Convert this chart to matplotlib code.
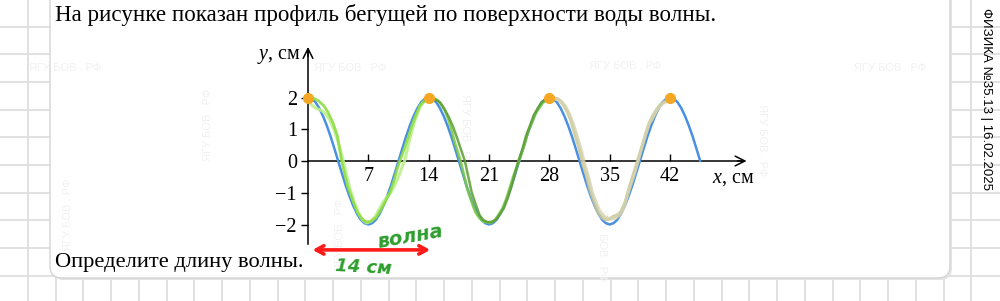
import numpy as np
import matplotlib
matplotlib.use("Agg")
import matplotlib.pyplot as plt
from matplotlib.patches import FancyBboxPatch

plt.rcParams['font.family'] = ['Liberation Serif', 'DejaVu Serif']
plt.rcParams['mathtext.fontset'] = 'custom'
plt.rcParams['mathtext.it'] = 'Liberation Serif:italic'
plt.rcParams['mathtext.rm'] = 'Liberation Serif'

# wave profile: y in cm sampled every 0.4375 cm from x = 0 to 45.5
blue_y = [2.00, 1.96, 1.85, 1.66, 1.41, 1.11, 0.77, 0.39,
          0.00, -0.39, -0.77, -1.11, -1.41, -1.66, -1.85, -1.96,
          -2.00, -1.96, -1.85, -1.66, -1.41, -1.11, -0.77, -0.39,
          0.00, 0.39, 0.77, 1.11, 1.41, 1.66, 1.85, 1.96,
          2.00, 1.96, 1.85, 1.66, 1.41, 1.11, 0.77, 0.39,
          0.00, -0.39, -0.77, -1.11, -1.41, -1.66, -1.85, -1.96,
          -2.00, -1.96, -1.85, -1.66, -1.41, -1.11, -0.77, -0.39,
          0.00, 0.39, 0.77, 1.11, 1.41, 1.66, 1.85, 1.96,
          2.00, 1.96, 1.85, 1.66, 1.41, 1.11, 0.77, 0.39,
          0.00, -0.39, -0.77, -1.11, -1.41, -1.66, -1.85, -1.96,
          -2.00, -1.96, -1.85, -1.66, -1.41, -1.11, -0.77, -0.39,
          0.00, 0.39, 0.77, 1.11, 1.41, 1.66, 1.85, 1.96,
          2.00, 1.96, 1.85, 1.66, 1.41, 1.11, 0.77, 0.39,
          0.00]
blue_x = np.arange(len(blue_y)) * 0.4375

# crest points
crest_x = [0, 14, 28, 42]
crest_y = [2, 2, 2, 2]

# hand-drawn overlay strokes
lime_x = [0, 0.6, 1.2, 1.8, 2.3, 2.9, 3.4, 3.9, 4.6, 5.2, 5.7, 6.2, 6.6, 7.0, 7.4, 7.9, 8.3, 8.9, 9.5, 10.0, 10.4, 10.8, 11.2, 11.7, 12.1, 12.6, 13.0, 13.5, 13.9, 14.6]
lime_y = [2.0, 1.98, 1.9, 1.75, 1.55, 1.2, 0.8, 0.0, -0.8, -1.25, -1.6, -1.8, -1.9, -1.92, -1.88, -1.78, -1.6, -1.32, -1.0, -0.6, -0.2, 0.1, 0.4, 0.8, 1.15, 1.5, 1.75, 1.9, 1.98, 1.95]
light_x = [0.3, 0.6, 1.0, 1.5, 2.0, 2.5, 3.0, 3.5, 4.0, 4.8, 5.3, 5.8, 6.3, 6.8, 7.3, 7.8, 8.2, 8.7, 9.1, 9.6, 10.0, 10.5, 10.9, 11.2, 11.6, 12.0, 12.5, 13.0, 13.5, 14.0]
light_y = [1.8, 1.72, 1.65, 1.6, 1.5, 1.3, 1.0, 0.6, 0.1, -0.8, -1.25, -1.6, -1.85, -1.95, -1.9, -1.75, -1.55, -1.3, -1.15, -1.0, -0.8, -0.5, -0.2, 0.0, 0.45, 0.9, 1.35, 1.7, 1.88, 1.95]
mid_x = [13.5, 14.5, 15.0, 15.4, 15.9, 16.3, 16.7, 17.0, 17.7, 18.1, 18.5, 19.0, 19.4, 19.9, 20.3, 20.8, 21.2, 21.7, 22.1, 22.6, 23.0, 23.4, 23.8, 24.2, 24.6, 25.1, 25.5, 26.0, 26.4, 26.9, 27.3, 28.0]
mid_y = [1.9, 1.98, 1.92, 1.8, 1.58, 1.3, 0.95, 0.6, 0.0, -0.45, -0.9, -1.3, -1.6, -1.8, -1.9, -1.94, -1.95, -1.85, -1.7, -1.48, -1.2, -0.85, -0.5, -0.2, 0.1, 0.5, 0.9, 1.22, 1.5, 1.7, 1.85, 1.95]
dark_x = [14.3, 14.8, 15.3, 15.8, 16.3, 16.8, 17.2, 17.7, 18.2, 18.6, 19.0, 19.5, 19.9, 20.3, 20.8, 21.3, 21.8, 22.2, 22.7, 23.2, 23.6, 24.0, 24.4, 24.9, 25.3, 25.8, 26.2, 26.7, 27.1, 27.8]
dark_y = [1.97, 1.93, 1.85, 1.65, 1.4, 1.1, 0.8, 0.4, 0.0, -0.5, -1.0, -1.4, -1.7, -1.85, -1.92, -1.92, -1.85, -1.7, -1.5, -1.15, -0.8, -0.4, 0.0, 0.4, 0.8, 1.15, 1.45, 1.68, 1.85, 1.98]
khaki_x = [28.0, 28.5, 29.0, 29.5, 30.0, 30.5, 30.9, 31.4, 31.8, 32.3, 32.7, 33.2, 33.6, 34.0, 34.5, 35.0, 35.4, 35.9, 36.3, 36.8, 37.2, 37.6, 38.0, 38.4, 38.8, 39.2, 39.6, 40.0, 40.4, 40.8, 41.2, 42.0]
khaki_y = [2.0, 1.99, 1.95, 1.82, 1.6, 1.28, 0.9, 0.45, 0.0, -0.45, -0.9, -1.3, -1.6, -1.76, -1.85, -1.83, -1.75, -1.7, -1.6, -1.3, -0.9, -0.55, -0.2, 0.15, 0.5, 0.85, 1.2, 1.42, 1.6, 1.75, 1.85, 1.95]
khaki2_x = [28.3, 28.8, 29.3, 29.8, 30.3, 30.8, 31.2, 31.7, 32.1, 32.6, 33.0, 33.5, 33.9, 34.4, 34.8, 35.3, 35.7, 36.2, 36.6, 37.0, 37.4, 37.9, 38.3, 38.7, 39.1, 39.5, 39.9, 40.3, 40.7, 41.1, 41.8]
khaki2_y = [1.95, 1.94, 1.9, 1.75, 1.5, 1.15, 0.8, 0.35, -0.1, -0.55, -1.0, -1.35, -1.6, -1.75, -1.8, -1.82, -1.8, -1.7, -1.5, -1.15, -0.8, -0.4, 0.0, 0.4, 0.8, 1.15, 1.3, 1.5, 1.68, 1.8, 1.9]

x_ticks = [7, 14, 21, 28, 35, 42]
y_ticks = [-2, -1, 0, 1, 2]

fig = plt.figure(figsize=(10, 3.01), dpi=100)

# background: graph paper + white card (pixel coords)
bg = fig.add_axes([0, 0, 1, 1])
bg.set_xlim(0, 1000)
bg.set_ylim(301, 0)
bg.axis('off')
for k in range(1, 36):
    bg.axvline(27.75 * k, color='#dedede', lw=1.3, zorder=0)
for k in range(-1, 11):
    bg.axhline(26.5 + 27.7 * k, color='#dedede', lw=1.3, zorder=0)

bg.add_patch(FancyBboxPatch((52, -30), 900, 310, boxstyle='round,pad=0,rounding_size=12',
                            fc='#e4e4e4', ec='none', zorder=1))
bg.add_patch(FancyBboxPatch((50, -30), 900, 308, boxstyle='round,pad=0,rounding_size=12',
                            fc='white', ec='#d4d4d4', lw=1.0, zorder=2))

for wx, wy, rot in [(65, 68, 0), (350, 68, 0), (625, 66, 0), (890, 68, 0),
                    (208, 125, 90), (465, 130, -90), (762, 140, -90),
                    (68, 215, 90), (340, 235, 90), (602, 245, -90)]:
    bg.text(wx, wy, 'ЯГУ БОВ . РФ', color='#f1f1f1', fontsize=8, family='Liberation Sans',
            ha='center', va='center', rotation=rot, zorder=3)

bg.text(55, 15, 'На рисунке показан профиль бегущей по поверхности воды волны.',
        fontsize=16.6, va='center', ha='left', zorder=4)
bg.text(55, 263, 'Определите длину волны.', fontsize=16.2, va='center', ha='left', zorder=4)
bg.text(986, 8, 'ФИЗИКА №35.13 | 16.02.2025', rotation=-90, fontsize=9.5,
        family='Liberation Sans', ha='center', va='top', zorder=4)

# chart axes, placed so that origin sits at (308, 161) px
px_x, px_y = 8.62, 31.75
x0, y0 = 308, 161
xmin, xmax, ymin, ymax = -6, 53, -3.6, 4.0
ax = fig.add_axes([(x0 + px_x * xmin) / 1000, (301 - (y0 - px_y * ymin)) / 301,
                   px_x * (xmax - xmin) / 1000, px_y * (ymax - ymin) / 301])
ax.set_xlim(xmin, xmax)
ax.set_ylim(ymin, ymax)
ax.patch.set_alpha(0)

for s in ['top', 'right']:
    ax.spines[s].set_visible(False)
ax.spines['left'].set_position(('data', 0))
ax.spines['bottom'].set_position(('data', 0))
ax.spines['left'].set_bounds(-2.6, 3.5)
ax.spines['bottom'].set_bounds(0, 50.5)
ax.spines['left'].set_linewidth(1.1)
ax.spines['bottom'].set_linewidth(1.1)
ax.annotate('', xy=(51.2, 0), xytext=(49.5, 0),
            arrowprops=dict(arrowstyle='->,head_length=0.7,head_width=0.35', lw=1.1, color='black'))
ax.annotate('', xy=(0, 3.68), xytext=(0, 3.2),
            arrowprops=dict(arrowstyle='->,head_length=0.7,head_width=0.35', lw=1.1, color='black'))

ax.set_xticks(x_ticks)
ax.set_yticks(y_ticks)
ax.tick_params(axis='x', direction='in', length=5, width=1, labelsize=14.5, pad=4)
ax.tick_params(axis='y', direction='out', length=5, width=1, labelsize=14.5, pad=3)

ax.text(49.3, -0.55, r'$x$, см', fontsize=14.5, ha='center', va='center')
ax.text(-0.8, 3.3, r'$y$, см', fontsize=14.5, ha='right', va='center')

ax.plot(blue_x, blue_y, color='#4a90e2', lw=1.8, zorder=3, solid_capstyle='round')
ax.plot(light_x, light_y, color='#bdf08c', lw=2.2, alpha=0.9, zorder=4)
ax.plot(lime_x, lime_y, color='#8fdd45', lw=2.0, alpha=0.9, zorder=4)
ax.plot(mid_x, mid_y, color='#7cc845', lw=2.0, alpha=0.85, zorder=4)
ax.plot(dark_x, dark_y, color='#5c9e34', lw=1.8, alpha=0.85, zorder=4)
ax.plot(khaki_x, khaki_y, color='#c9c79b', lw=2.4, alpha=0.85, zorder=4)
ax.plot(khaki2_x, khaki2_y, color='#d5d3ad', lw=2.2, alpha=0.8, zorder=4)
ax.plot(crest_x, crest_y, 'o', color='#f5a623', ms=7, zorder=5)

ax.annotate('', xy=(14.5, -2.8), xytext=(0.2, -2.8), annotation_clip=False,
            arrowprops=dict(arrowstyle='<->,head_length=0.55,head_width=0.3',
                            color='#ff1a1a', lw=2.6))
ax.text(11.9, -2.38, 'волна', color='#2e9e2e', fontsize=14, family='DejaVu Sans',
        style='italic', weight='bold', rotation=10, ha='center', va='center')
ax.text(6.4, -3.35, '14 см', color='#2e9e2e', fontsize=13, family='DejaVu Sans',
        style='italic', weight='bold', rotation=-3, ha='center', va='center')

fig.savefig('out.png', dpi=100)
